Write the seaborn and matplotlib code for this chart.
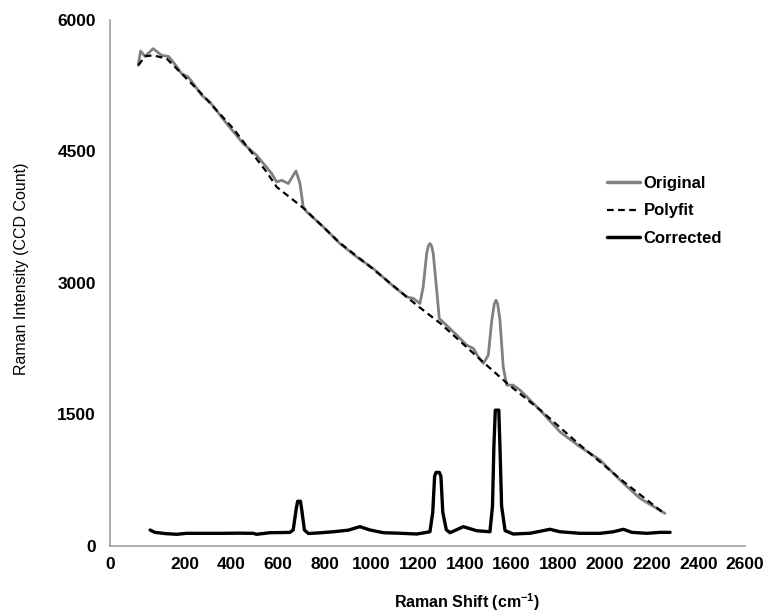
import pandas as pd
import matplotlib
matplotlib.use('Agg')
import matplotlib.pyplot as plt
import seaborn as sns

# spectra (Raman shift in cm-1, intensity in CCD counts)
orig_x = [0, 10, 29, 64, 100, 129, 150, 186, 214, 236, 272, 307, 379, 450, 507, 572, 593, 615, 643, 676,
          693, 707, 722, 793, 864, 936, 1007, 1079, 1150, 1179, 1207, 1221, 1236, 1243, 1250, 1257, 1264, 1279,
          1290, 1365, 1407, 1436, 1457, 1479, 1500, 1515, 1526, 1533, 1540, 1550, 1564, 1579, 1607, 1636, 1650,
          1722, 1807, 1893, 1979, 2079, 2150, 2257]
orig_y = [5482, 5646, 5585, 5673, 5597, 5585, 5520, 5388, 5349, 5274, 5140, 5064, 4817, 4589, 4456, 4247, 4151,
          4170, 4133, 4277, 4133, 3866, 3809, 3638, 3448, 3295, 3163, 2992, 2839, 2821, 2763, 2953, 3334, 3420,
          3448, 3420, 3334, 2915, 2592, 2402, 2288, 2250, 2154, 2079, 2174, 2573, 2760, 2801, 2760, 2573, 2040,
          1831, 1831, 1774, 1737, 1546, 1298, 1127, 976, 710, 539, 367]

poly_x = [0, 29, 63, 122, 179, 264, 406, 550, 593, 707, 864, 1007, 1193, 1293, 1465, 1579, 1722, 1893, 2079, 2257]
poly_y = [5482, 5585, 5597, 5559, 5406, 5178, 4764, 4265, 4094, 3855, 3455, 3155, 2745, 2540, 2125, 1855, 1548,
          1147, 730, 359]

corr_x = [51, 71, 120, 165, 207, 300, 364, 430, 493, 507, 564, 620, 650, 664, 677, 683, 695, 700, 712, 729,
          780, 836, 900, 950, 993, 1050, 1120, 1193, 1235, 1250, 1262, 1270, 1276, 1290, 1297, 1305, 1320, 1336,
          1393, 1450, 1507, 1518, 1524, 1530, 1545, 1550, 1557, 1572, 1607, 1680, 1764, 1807, 1893, 1979, 2036,
          2079, 2115, 2179, 2236, 2279]
corr_y = [177, 150, 135, 128, 139, 139, 139, 141, 139, 128, 146, 148, 150, 177, 420, 505, 505, 420, 177, 137,
          145, 157, 175, 215, 177, 146, 140, 131, 150, 157, 380, 790, 835, 835, 790, 380, 180, 146, 215, 169,
          157, 450, 1130, 1545, 1545, 1130, 450, 170, 131, 140, 185, 157, 139, 139, 157, 185, 150, 139, 150, 150]

x_ticks = [200, 400, 600, 800, 1000, 1200, 1400, 1600, 1800, 2000, 2200, 2400, 2600]
y_ticks = [0, 1500, 3000, 4500, 6000]

original = pd.DataFrame({'shift': orig_x, 'intensity': orig_y})
polyfit = pd.DataFrame({'shift': poly_x, 'intensity': poly_y})
corrected = pd.DataFrame({'shift': corr_x, 'intensity': corr_y})

sns.set_style('white')
plt.rcParams['font.family'] = ['Liberation Sans', 'DejaVu Sans']
plt.rcParams['text.color'] = 'black'
plt.rcParams['axes.labelcolor'] = 'black'
plt.rcParams['xtick.labelcolor'] = 'black'
plt.rcParams['ytick.labelcolor'] = 'black'
plt.rcParams['mathtext.fontset'] = 'custom'
plt.rcParams['mathtext.rm'] = 'Liberation Sans:bold'
plt.rcParams['mathtext.default'] = 'rm'

fig = plt.figure(figsize=(7.73, 6.12), dpi=100)
ax = fig.add_axes([110 / 773, 66.5 / 612, 635 / 773, 525.5 / 612])

sns.lineplot(data=original, x='shift', y='intensity', color='#808080', linewidth=2.0,
             estimator=None, label='Original', ax=ax)
sns.lineplot(data=polyfit, x='shift', y='intensity', color='black', linewidth=1.6,
             linestyle=(0, (3, 2)), estimator=None, label='Polyfit', ax=ax)
sns.lineplot(data=corrected, x='shift', y='intensity', color='black', linewidth=2.4,
             estimator=None, label='Corrected', ax=ax)

ax.set_xlim(-121, 2600)
ax.set_ylim(0, 6000)

# Excel-style axis: the "0" label sits where the y axis crosses
ax.set_xticks([-121] + x_ticks)
ax.set_xticklabels(['0'] + [str(t) for t in x_ticks])
ax.set_yticks(y_ticks)
ax.set_yticklabels([str(t) for t in y_ticks])

for lab in ax.get_xticklabels() + ax.get_yticklabels():
    lab.set_fontweight('bold')
    lab.set_fontsize(12.5)

ax.tick_params(axis='y', direction='in', length=5, width=1, color='#999999', pad=10)
ax.tick_params(axis='x', direction='in', length=2, width=1.5, color='#999999', pad=8)
ax.get_xticklines()[-2].set_markersize(8)

for side in ['top', 'right']:
    ax.spines[side].set_visible(False)
for side in ['left', 'bottom']:
    ax.spines[side].set_color('#a0a0a0')
    ax.spines[side].set_linewidth(1.2)

ax.set_xlabel('Raman Shift (cm$^{-1}$)', fontsize=11.5, fontweight='bold')
ax.xaxis.set_label_coords(0.562, -0.088)
ax.set_ylabel('Raman Intensity (CCD Count)', fontsize=11.5)
ax.yaxis.set_label_coords(-0.128, 0.526)

leg = ax.legend(loc='center left', bbox_to_anchor=(607 / 773, 1 - 211 / 612),
                bbox_transform=fig.transFigure, frameon=False, fontsize=12,
                handlelength=2.0, handletextpad=0.2, labelspacing=0.75,
                borderpad=0, borderaxespad=0)
for t in leg.get_texts():
    t.set_fontweight('bold')
for line in leg.get_lines():
    if line.get_linestyle() == '-':
        line.set_linewidth(2.5)

fig.savefig('out.png', dpi=100)
